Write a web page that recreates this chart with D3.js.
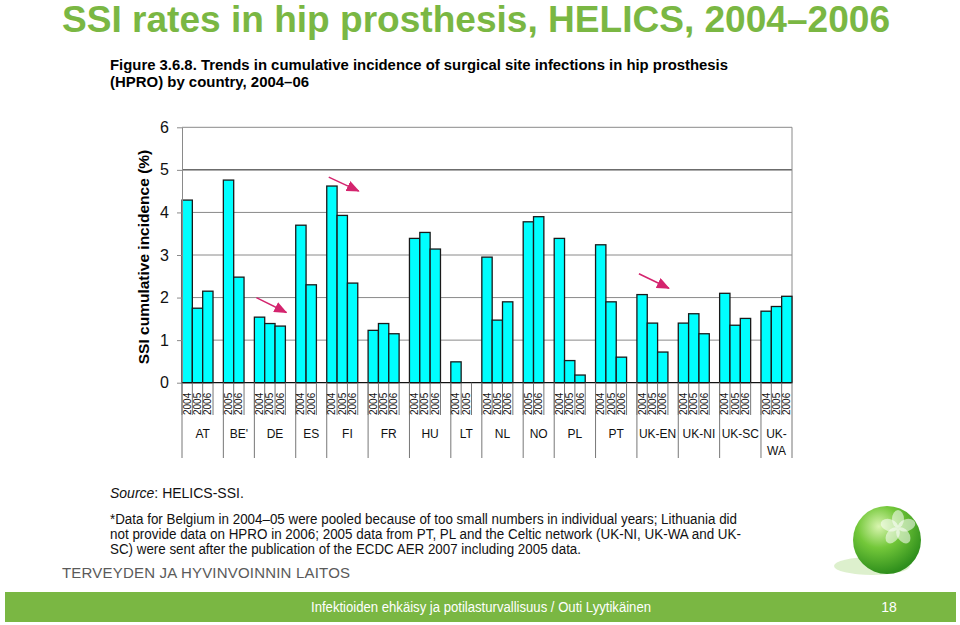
<!DOCTYPE html>
<html>
<head>
<meta charset="utf-8">
<script src="https://cdn.jsdelivr.net/npm/d3@7"></script>
<style>
body { margin: 0; background: #fff; }
svg text { font-family: Arial, "Liberation Sans", sans-serif; }
.narrow { font-family: "Liberation Sans Narrow", "Arial Narrow", Arial, sans-serif; }
</style>
</head>
<body>
<div class="slide"></div>
<script>
const countries = ["AT", "BE'", "DE", "ES", "FI", "FR", "HU", "LT", "NL", "NO", "PL", "PT", "UK-EN", "UK-NI", "UK-SC", "UK-WA"];
const years = [
    ["2004", "2005", "2006"], ["2005", "2006"], ["2004", "2005", "2006"], ["2004", "2006"],
    ["2004", "2005", "2006"], ["2004", "2005", "2006"], ["2004", "2005", "2006"], ["2004", "2005"],
    ["2004", "2005", "2006"], ["2005", "2006"], ["2004", "2005", "2006"], ["2004", "2005", "2006"],
    ["2004", "2005", "2006"], ["2004", "2005", "2006"], ["2004", "2005", "2006"], ["2004", "2005", "2006"]
];
const rates = [
    [4.29, 1.75, 2.15], [4.76, 2.48], [1.54, 1.39, 1.33], [3.70, 2.30],
    [4.62, 3.93, 2.34], [1.23, 1.39, 1.15], [3.39, 3.53, 3.14], [0.49, null],
    [2.95, 1.47, 1.90], [3.78, 3.90], [3.39, 0.52, 0.18], [3.24, 1.90, 0.60],
    [2.07, 1.40, 0.72], [1.40, 1.62, 1.15], [2.10, 1.35, 1.51], [1.68, 1.79, 2.03]
];
const yTicks = [0, 1, 2, 3, 4, 5, 6];
// trend arrows drawn over three countries (values in % on the y scale)
const arrowCountries = ["DE", "FI", "UK-EN"];
const arrowFrom = [2.0, 4.83, 2.56];
const arrowTo = [1.65, 4.5, 2.22];

const width = 960;
const height = 625;
const green = "#7ab743";
const pink = "#d4246e";

const svg = d3.select(".slide")
    .append("svg")
    .attr("width", width)
    .attr("height", height);

const defs = svg.append("defs");

// slide title
svg.append("text")
    .attr("x", 62)
    .attr("y", 32)
    .attr("font-size", 37)
    .attr("font-weight", "bold")
    .attr("fill", green)
    .attr("textLength", 828)
    .attr("lengthAdjust", "spacingAndGlyphs")
    .text("SSI rates in hip prosthesis, HELICS, 2004\u20132006");

// figure caption
svg.append("text")
    .attr("class", "narrow")
    .attr("x", 110)
    .attr("y", 70)
    .attr("font-size", 15)
    .attr("font-weight", "bold")
    .attr("textLength", 618)
    .attr("lengthAdjust", "spacingAndGlyphs")
    .text("Figure 3.6.8. Trends in cumulative incidence of surgical site infections in hip prosthesis");
svg.append("text")
    .attr("class", "narrow")
    .attr("x", 110)
    .attr("y", 87)
    .attr("font-size", 15)
    .attr("font-weight", "bold")
    .attr("textLength", 199)
    .attr("lengthAdjust", "spacingAndGlyphs")
    .text("(HPRO) by country, 2004\u201306");

// slots: every year is a slot, each country group ends with one empty slot
let slots = [];
countries.forEach(function(c, i){
    years[i].forEach(function(yr, j){
        slots.push({key: c + "|" + yr, country: c, year: yr, value: rates[i][j], group: i});
    });
    if (i < countries.length - 1){
        slots.push({key: c + "|gap", country: c, year: "", value: null, group: i});
    }
});

const plotLeft = 182, plotRight = 792, plotTop = 127.3, plotBottom = 382.7;

const x = d3.scaleBand()
    .domain(slots.map(d => d.key))
    .range([plotLeft, plotRight])
    .paddingInner(0)
    .paddingOuter(0);

const y = d3.scaleLinear()
    .domain([0, 6])
    .range([plotBottom, plotTop]);

// gridlines
svg.selectAll(".grid")
    .data(yTicks.filter(t => t > 0))
    .enter()
    .append("line")
    .attr("class", "grid")
    .attr("x1", plotLeft)
    .attr("x2", plotRight)
    .attr("y1", d => y(d))
    .attr("y2", d => y(d))
    .attr("stroke", d => d == 5 ? "#1a1a1a" : "#8a8a8a")
    .attr("stroke-width", 1);

svg.append("line")
    .attr("x1", plotRight).attr("x2", plotRight)
    .attr("y1", plotTop).attr("y2", plotBottom)
    .attr("stroke", "#8a8a8a");

// bars
svg.selectAll(".bar")
    .data(slots.filter(d => d.value != null))
    .enter()
    .append("rect")
    .attr("class", "bar")
    .attr("x", d => x(d.key))
    .attr("y", d => y(d.value))
    .attr("width", x.bandwidth())
    .attr("height", d => y(0) - y(d.value))
    .attr("fill", "#00ffff")
    .attr("stroke", "#1a1a1a")
    .attr("stroke-width", 1.3);

// y axis
const yAxis = svg.append("g")
    .attr("transform", "translate(" + plotLeft + ",0)")
    .call(d3.axisLeft(y).tickValues(yTicks).tickSize(5).tickSizeOuter(0).tickPadding(8).tickFormat(d3.format("d")));
yAxis.select(".domain").attr("stroke", "#8a8a8a");
yAxis.selectAll(".tick line").attr("stroke", "#8a8a8a");
yAxis.selectAll(".tick text")
    .attr("font-size", 16)
    .attr("fill", "#111");

svg.append("text")
    .attr("transform", "translate(149,257) rotate(-90)")
    .attr("text-anchor", "middle")
    .attr("font-size", 15.5)
    .attr("font-weight", "bold")
    .text("SSI cumulative incidence (%)");

// x axis: baseline, slot ticks, group dividers
svg.append("line")
    .attr("x1", plotLeft).attr("x2", plotRight)
    .attr("y1", y(0)).attr("y2", y(0))
    .attr("stroke", "#111")
    .attr("stroke-width", 1.2);

let groupStarts = countries.map(function(c, i){
    return x(slots.find(s => s.group == i).key);
});
let groupEnds = groupStarts.slice(1).concat([plotRight]);

svg.selectAll(".slot-tick")
    .data(slots)
    .enter()
    .append("line")
    .attr("class", "slot-tick")
    .attr("x1", d => x(d.key))
    .attr("x2", d => x(d.key))
    .attr("y1", y(0))
    .attr("y2", 415)
    .attr("stroke", "#777");

svg.selectAll(".group-tick")
    .data(groupStarts.concat([plotRight]))
    .enter()
    .append("line")
    .attr("class", "group-tick")
    .attr("x1", d => d)
    .attr("x2", d => d)
    .attr("y1", y(0))
    .attr("y2", 458)
    .attr("stroke", "#777");

svg.selectAll(".year-label")
    .data(slots.filter(d => d.year != ""))
    .enter()
    .append("text")
    .attr("class", "year-label")
    .attr("transform", d => "translate(" + (x(d.key) + x.bandwidth() / 2) + ",415) rotate(-90)")
    .attr("dy", "0.35em")
    .attr("font-size", 10)
    .attr("fill", "#111")
    .text(d => d.year);

const countryLabels = svg.selectAll(".country-label")
    .data(countries)
    .enter()
    .append("text")
    .attr("class", "country-label")
    .attr("x", (d, i) => (groupStarts[i] + groupEnds[i]) / 2)
    .attr("y", 438)
    .attr("text-anchor", "middle")
    .attr("font-size", 12)
    .attr("fill", "#111");
countryLabels.each(function(d){
    let parts = d == "UK-WA" ? ["UK-", "WA"] : [d];
    let t = d3.select(this);
    parts.forEach(function(p, k){
        t.append("tspan")
            .attr("x", t.attr("x"))
            .attr("dy", k == 0 ? 0 : 17)
            .text(p);
    });
});

// trend arrows
defs.append("marker")
    .attr("id", "arrowhead")
    .attr("markerUnits", "userSpaceOnUse")
    .attr("markerWidth", 13)
    .attr("markerHeight", 11)
    .attr("refX", 12)
    .attr("refY", 5.5)
    .attr("orient", "auto")
    .append("path")
    .attr("d", "M0,0 L13,5.5 L0,11 Z")
    .attr("fill", pink);

svg.selectAll(".trend-arrow")
    .data(arrowCountries)
    .enter()
    .append("line")
    .attr("class", "trend-arrow")
    .attr("x1", d => groupStarts[countries.indexOf(d)] + 2)
    .attr("x2", d => groupStarts[countries.indexOf(d)] + 3 * x.bandwidth() + 1)
    .attr("y1", (d, i) => y(arrowFrom[i]))
    .attr("y2", (d, i) => y(arrowTo[i]))
    .attr("stroke", pink)
    .attr("stroke-width", 1.5)
    .attr("marker-end", "url(#arrowhead)");

// source and notes
const source = svg.append("text")
    .attr("class", "narrow")
    .attr("x", 110)
    .attr("y", 498)
    .attr("font-size", 14)
    .attr("fill", "#111");
source.append("tspan").attr("font-style", "italic").text("Source");
source.append("tspan").text(": HELICS-SSI.");

const notes = [
    "*Data for Belgium in 2004\u201305 were pooled because of too small numbers in individual years; Lithuania did",
    "not provide data on HPRO in 2006; 2005 data from PT, PL and the Celtic network (UK-NI, UK-WA and UK-",
    "SC) were sent after the publication of the ECDC AER 2007 including 2005 data."
];
const noteWidths = [627, 631, 471];
svg.selectAll(".note")
    .data(notes)
    .enter()
    .append("text")
    .attr("class", "note narrow")
    .attr("x", 110)
    .attr("y", (d, i) => 524 + i * 15)
    .attr("font-size", 14)
    .attr("fill", "#111")
    .attr("textLength", (d, i) => noteWidths[i])
    .attr("lengthAdjust", "spacingAndGlyphs")
    .text(d => d);

// institute name
svg.append("text")
    .attr("x", 62)
    .attr("y", 578)
    .attr("font-size", 15)
    .attr("fill", "#5a5a5a")
    .attr("textLength", 288)
    .attr("lengthAdjust", "spacing")
    .text("TERVEYDEN JA HYVINVOINNIN LAITOS");

// green sphere logo
const grad = defs.append("radialGradient")
    .attr("id", "sphere")
    .attr("cx", "38%").attr("cy", "30%").attr("r", "70%");
grad.append("stop").attr("offset", "0%").attr("stop-color", "#d9f5b0");
grad.append("stop").attr("offset", "45%").attr("stop-color", "#74c83a");
grad.append("stop").attr("offset", "100%").attr("stop-color", "#2f8f1c");

svg.append("ellipse")
    .attr("cx", 872).attr("cy", 566)
    .attr("rx", 38).attr("ry", 9)
    .attr("fill", "#cfe9b8")
    .attr("opacity", 0.7);
svg.append("circle")
    .attr("cx", 887).attr("cy", 540)
    .attr("r", 34)
    .attr("fill", "url(#sphere)");
[0, 72, 144, 216, 288].forEach(function(a){
    svg.append("ellipse")
        .attr("cx", 0).attr("cy", -9)
        .attr("rx", 6).attr("ry", 9)
        .attr("transform", "translate(898,528) rotate(" + a + ")")
        .attr("fill", "#ffffff")
        .attr("opacity", 0.55);
});

// footer band
svg.append("rect")
    .attr("x", 5).attr("y", 592)
    .attr("width", 951).attr("height", 30)
    .attr("fill", green);
svg.append("text")
    .attr("class", "narrow")
    .attr("x", 481)
    .attr("y", 612)
    .attr("text-anchor", "middle")
    .attr("font-size", 14)
    .attr("fill", "#fff")
    .attr("textLength", 340)
    .attr("lengthAdjust", "spacingAndGlyphs")
    .text("Infektioiden ehk\u00e4isy ja potilasturvallisuus / Outi Lyytik\u00e4inen");
svg.append("text")
    .attr("class", "narrow")
    .attr("x", 889)
    .attr("y", 612)
    .attr("text-anchor", "middle")
    .attr("font-size", 14)
    .attr("fill", "#fff")
    .text("18");
</script>
</body>
</html>
